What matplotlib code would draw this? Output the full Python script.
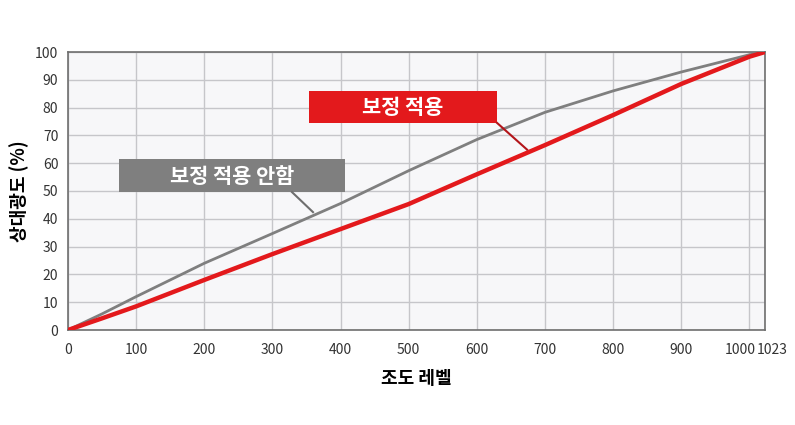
import matplotlib
matplotlib.use("Agg")
import matplotlib.pyplot as plt
from matplotlib.patches import Rectangle
import matplotlib.transforms as mtransforms

plt.rcParams['font.family'] = ['Noto Sans CJK KR', 'DejaVu Sans']

# Data
levels = [0, 50, 100, 200, 300, 400, 500, 600, 700, 800, 900, 1000, 1023]
corrected = [0, 4.2, 8.5, 18, 27.3, 36.3, 45.3, 56, 66.5, 77.3, 88.5, 98.3, 100]
uncorrected = [0, 5.8, 12, 24, 34.7, 45.5, 57.3, 68.5, 78.3, 86, 92.8, 99, 100]
xticks = [0, 100, 200, 300, 400, 500, 600, 700, 800, 900, 1000, 1023]
yticks = [0, 10, 20, 30, 40, 50, 60, 70, 80, 90, 100]
label_corrected = "보정 적용"
label_uncorrected = "보정 적용 안함"
xlabel = "조도 레벨"
ylabel = "상대광도 (%)"

RED = "#e3191c"
GRAY = "#7f7f7f"

fig = plt.figure(figsize=(7.95, 4.25), dpi=100)
ax = fig.add_axes([68/795, 1-330/425, (765-68)/795, (330-52)/425])
ax.set_facecolor("#f7f7f9")
ax.set_xlim(0, 1023)
ax.set_ylim(0, 100)

ax.set_xticks(xticks)
ax.set_yticks(yticks)
ax.set_xticklabels([str(v) for v in xticks], fontsize=10, color="#333333")
ax.set_yticklabels([str(v) for v in yticks], fontsize=10, color="#333333")
ax.tick_params(axis='both', length=0)
ax.tick_params(axis='x', pad=9)
ax.tick_params(axis='y', pad=7)

# nudge the crowded last two x labels apart
xlabels = ax.get_xticklabels()
xlabels[-2].set_transform(xlabels[-2].get_transform() +
                          mtransforms.ScaledTranslation(-9/100, 0, fig.dpi_scale_trans))
xlabels[-1].set_transform(xlabels[-1].get_transform() +
                          mtransforms.ScaledTranslation(7/100, 0, fig.dpi_scale_trans))

ax.grid(True, color="#c6c6ca", linewidth=1.0)
ax.set_axisbelow(True)
for s in ax.spines.values():
    s.set_color("#6e6e6e")
    s.set_linewidth(1.2)

ax.plot(levels, uncorrected, color=GRAY, linewidth=2.0, solid_capstyle='round', zorder=3)
ax.plot(levels, corrected, color=RED, linewidth=3.2, solid_capstyle='round', zorder=4)

ax.set_xlabel(xlabel, fontsize=13, fontweight='bold', labelpad=9)
ax.set_ylabel(ylabel, fontsize=13, fontweight='bold', labelpad=4)

# Callout boxes
ax.add_patch(Rectangle((75, 49.6), 331.6, 11.9, facecolor=GRAY, edgecolor='none', zorder=5))
ax.text((75 + 406.6) / 2, 55.3, label_uncorrected, color='white', fontsize=15,
        fontweight='bold', ha='center', va='center', zorder=6)
ax.plot([328.8, 359.6], [49.6, 42.4], color="#6e6e6e", linewidth=1.5, zorder=5)

ax.add_patch(Rectangle((353.7, 74.5), 276, 11.5, facecolor=RED, edgecolor='none', zorder=5))
ax.text((353.7 + 629.7) / 2, 80.0, label_corrected, color='white', fontsize=15,
        fontweight='bold', ha='center', va='center', zorder=6)
ax.plot([629.7, 673.7], [74.5, 64.9], color="#b3151a", linewidth=1.5, zorder=5)

fig.savefig("out.png", dpi=100)
